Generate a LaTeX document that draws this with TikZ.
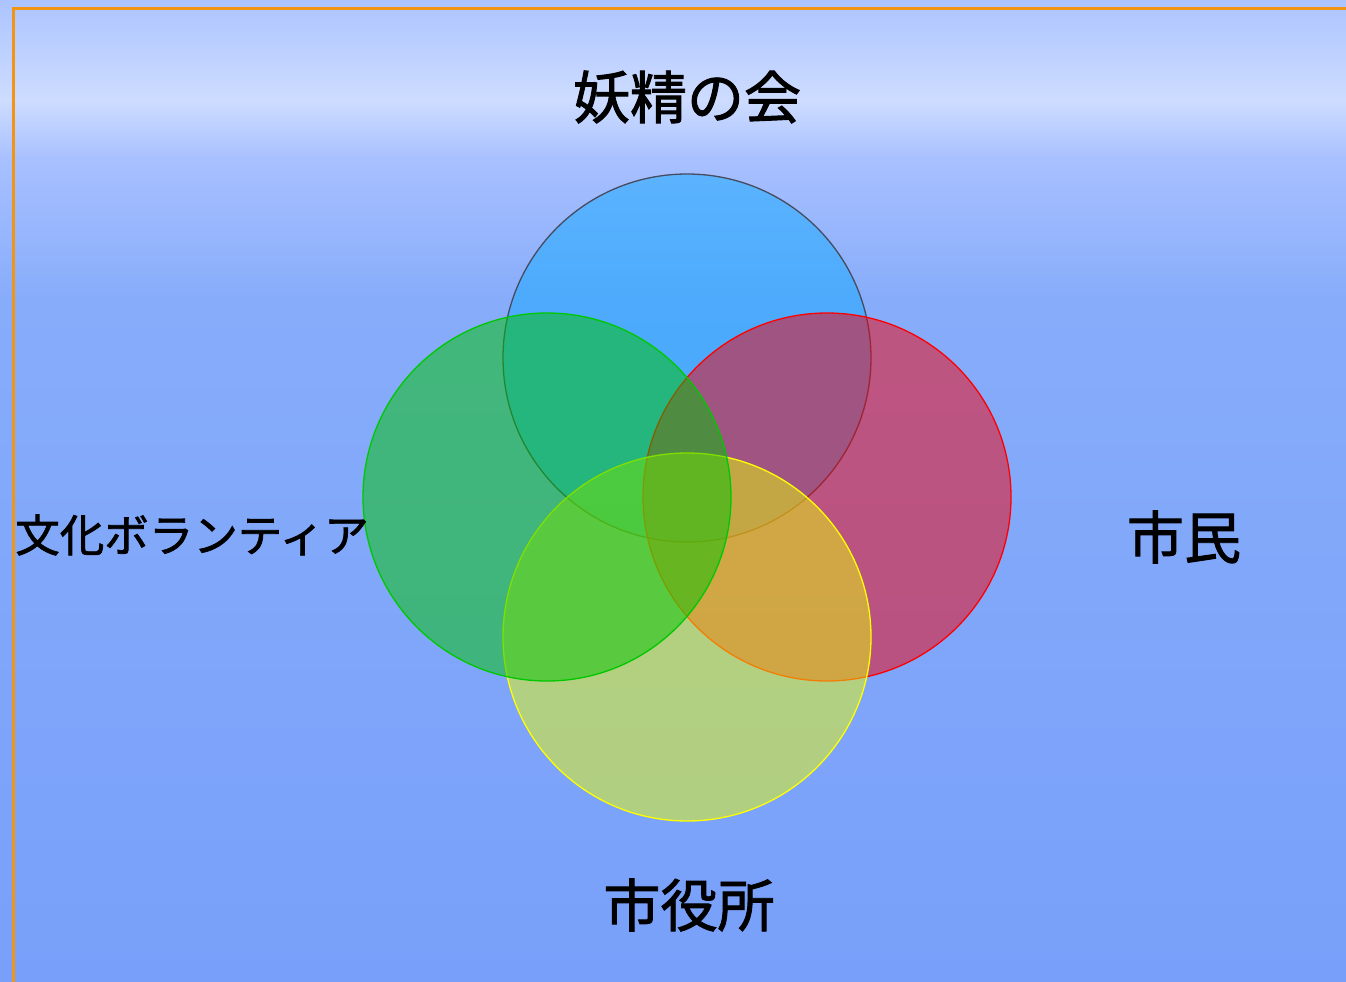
\documentclass[tikz,border=0pt]{standalone}
\usepackage{fontspec}
\newfontfamily\jpfont[FakeBold=1.6]{Noto Sans CJK JP}
\definecolor{fairyfill}{RGB}{20,170,255}
\definecolor{fairyline}{RGB}{70,75,95}
\definecolor{volfill}{RGB}{0,195,0}
\definecolor{volline}{RGB}{0,200,0}
\definecolor{citfill}{RGB}{245,0,10}
\definecolor{citline}{RGB}{255,0,0}
\definecolor{hallfill}{RGB}{231,251,10}
\definecolor{hallline}{RGB}{255,255,0}
\definecolor{frameline}{RGB}{240,150,20}
\definecolor{skyA}{RGB}{172,196,255}
\definecolor{skyB}{RGB}{205,220,255}
\definecolor{skyC}{RGB}{168,192,255}
\definecolor{skyD}{RGB}{135,172,250}
\definecolor{skyE}{RGB}{120,160,250}
\pgfdeclareverticalshading{sky}{100bp}{color(0bp)=(skyE); color(25bp)=(skyE); color(59.7bp)=(skyD); color(66.9bp)=(skyC); color(69.9bp)=(skyB); color(75bp)=(skyA); color(100bp)=(skyA)}
\tikzset{
  ring/.style={circle, minimum size=368pt, line width=1.3pt, fill opacity=0.5},
  label/.style={font=\jpfont\fontsize{57}{60}\selectfont, text=black, inner sep=0pt},
}
\begin{document}
\begin{tikzpicture}[x=1pt,y=-1pt]
  \useasboundingbox (0,0) rectangle (1346,982);
  \shade[shading=sky] (0,0) rectangle (1346,982);
  \draw[frameline, line width=3pt] (13,990) -- (13,9) -- (1356,9);
  \node[ring, draw=fairyline, fill=fairyfill] (fairy) at (687,358) {};
  \node[ring, draw=citline, fill=citfill] (citizen) at (827,497) {};
  \node[ring, draw=hallline, fill=hallfill] (hall) at (687,637) {};
  \node[ring, draw=volline, fill=volfill] (volunteer) at (547,497) {};
  \node[label] (fairytext) at (687,97) {妖精の会};
  \node[label] (citizentext) at (1184,537) {市民};
  \node[label] (halltext) at (689,905) {市役所};
  \node[label, font=\jpfont\fontsize{44.5}{48}\selectfont] (voltext) at (192,535) {文化ボランティア};
\end{tikzpicture}
\end{document}
